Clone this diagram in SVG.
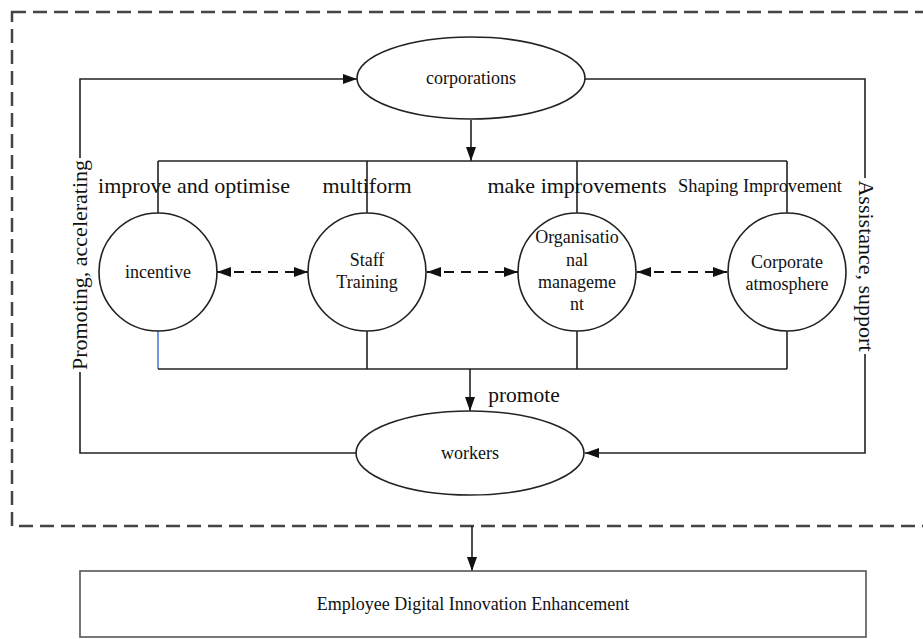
<svg xmlns="http://www.w3.org/2000/svg" width="923" height="639" viewBox="0 0 923 639">
<defs>
<marker id="ah" markerUnits="userSpaceOnUse" markerWidth="14" markerHeight="10" refX="14" refY="5" orient="auto-start-reverse">
<path d="M0,0 L14,5 L0,10 z" fill="#111"/>
</marker>
<style>
.ln{fill:none;stroke:#222;stroke-width:1.6}
.nd{fill:#fff;stroke:#222;stroke-width:1.6}
.da{fill:none;stroke:#111;stroke-width:2;stroke-dasharray:10 7}
.t{font-family:"Liberation Serif","Times New Roman",serif;fill:#111;text-anchor:middle}
.s18{font-size:18px}
.s22{font-size:22px}
</style>
</defs>
<rect width="923" height="639" fill="#fff"/>
<rect x="12" y="12" width="940" height="514" fill="none" stroke="#444" stroke-width="2.5" stroke-dasharray="14 7"/>
<g id="connectors">
<path class="ln" d="M356,453 H80 V372"/>
<path class="ln" d="M80,158 V79 H357" marker-end="url(#ah)"/>
<path class="ln" d="M585,79 H865 V178"/>
<path class="ln" d="M865,354 V453 H585" marker-end="url(#ah)"/>
<path class="ln" d="M471,120 V161" marker-end="url(#ah)"/>
<path class="ln" d="M158,161 H787"/>
<path class="ln" d="M158,161 V213 M367,161 V213 M577,161 V213 M787,161 V213"/>
<path class="ln" d="M367,331 V369 M577,331 V369 M787,331 V369"/>
<path fill="none" stroke="#4a7fd8" stroke-width="1.6" d="M158,331 V369"/>
<path class="ln" d="M158,369 H787"/>
<path class="ln" d="M470,369 V411" marker-end="url(#ah)"/>
<path class="ln" d="M472,526 V571" marker-end="url(#ah)"/>
<path class="da" d="M217,272 H308" marker-start="url(#ah)" marker-end="url(#ah)"/>
<path class="da" d="M427,272 H518" marker-start="url(#ah)" marker-end="url(#ah)"/>
<path class="da" d="M637,272 H727" marker-start="url(#ah)" marker-end="url(#ah)"/>
<text class="t s22" transform="translate(87,265) rotate(-90)">Promoting, accelerating</text>
<text class="t s22" transform="translate(859,266) rotate(90)">Assistance, support</text>
<text class="t s22" x="194" y="193">improve and optimise</text>
<text class="t s22" x="367" y="193">multiform</text>
<text class="t s22" x="577" y="193">make improvements</text>
<text class="t" style="font-size:18.4px" x="760" y="192">Shaping Improvement</text>
<text class="t" style="font-size:21.5px" x="524" y="402">promote</text>
</g>
<g id="corporations">
<ellipse class="nd" cx="471" cy="78" rx="114" ry="41"/>
<text class="t s18" x="471" y="84">corporations</text>
</g>
<g id="incentive">
<circle class="nd" cx="158" cy="272" r="59"/>
<text class="t s18" x="158" y="278">incentive</text>
</g>
<g id="staff-training">
<circle class="nd" cx="367" cy="272" r="59"/>
<text class="t s18" x="367" y="266">Staff</text>
<text class="t s18" x="367" y="288">Training</text>
</g>
<g id="organisational-management">
<circle class="nd" cx="577" cy="272" r="59"/>
<text class="t s18" x="577" y="243">Organisatio</text>
<text class="t s18" x="577" y="266">nal</text>
<text class="t s18" x="577" y="288">manageme</text>
<text class="t s18" x="577" y="310">nt</text>
</g>
<g id="corporate-atmosphere">
<circle class="nd" cx="787" cy="272" r="59"/>
<text class="t s18" x="787" y="268">Corporate</text>
<text class="t s18" x="787" y="290">atmosphere</text>
</g>
<g id="workers">
<ellipse class="nd" cx="470" cy="453" rx="114" ry="42"/>
<text class="t s18" x="470" y="459">workers</text>
</g>
<g id="employee-digital-innovation-enhancement">
<rect x="80" y="571" width="786" height="66" fill="#fff" stroke="#555" stroke-width="1.6"/>
<text class="t s18" x="473" y="610">Employee Digital Innovation Enhancement</text>
</g>
</svg>
